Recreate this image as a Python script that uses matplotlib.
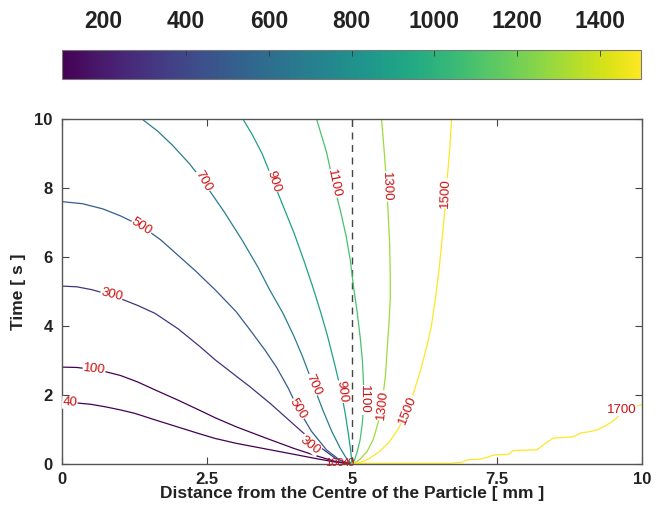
import numpy as np
import matplotlib
matplotlib.use('Agg')
import matplotlib.pyplot as plt
from matplotlib import cm, colors

plt.rcParams['font.family'] = ['Liberation Sans', 'DejaVu Sans']

# temperature levels and the isotherms (x in mm, t in s)
levels = [40, 100, 300, 500, 700, 900, 1100, 1300, 1500, 1700]

x40 = [0, 0.25, 0.5, 0.74, 1.0, 1.25, 1.6, 2.0, 2.38, 2.64, 3.0, 3.5, 4.0, 4.4, 4.7, 5.0]
t40 = [1.78, 1.77, 1.73, 1.66, 1.57, 1.47, 1.28, 1.07, 0.87, 0.74, 0.6, 0.44, 0.28, 0.15, 0.06, 0.0]

x100 = [0, 0.25, 0.5, 0.74, 1.0, 1.3, 1.6, 2.0, 2.38, 2.64, 3.0, 3.5, 4.0, 4.4, 4.7, 5.0]
t100 = [2.81, 2.8, 2.75, 2.68, 2.57, 2.38, 2.15, 1.85, 1.55, 1.34, 1.08, 0.76, 0.45, 0.23, 0.08, 0.0]

x300 = [0, 0.25, 0.5, 0.74, 1.0, 1.3, 1.6, 2.0, 2.38, 2.64, 3.0, 3.24, 3.6, 4.1, 4.4, 4.7, 4.9, 5.0]
t300 = [5.16, 5.14, 5.06, 4.95, 4.8, 4.6, 4.37, 3.92, 3.4, 3.02, 2.55, 2.24, 1.74, 0.99, 0.55, 0.18, 0.04, 0.0]

x500 = [0, 0.35, 0.7, 1.0, 1.37, 1.7, 2.0, 2.3, 2.64, 3.0, 3.24, 3.5, 3.7, 3.9, 4.07, 4.3, 4.56, 4.8, 5.0]
t500 = [7.61, 7.55, 7.4, 7.2, 6.9, 6.5, 6.05, 5.6, 5.05, 4.42, 3.89, 3.3, 2.8, 2.2, 1.6, 0.95, 0.41, 0.1, 0.0]

x700 = [1.38, 1.65, 1.9, 2.2, 2.43, 2.8, 3.12, 3.38, 3.58, 3.81, 4.0, 4.15, 4.33, 4.5, 4.65, 4.8, 4.92, 5.0]
t700 = [10, 9.65, 9.25, 8.7, 8.2, 7.3, 6.45, 5.7, 5.05, 4.37, 3.7, 3.1, 2.3, 1.55, 0.95, 0.45, 0.12, 0.0]

x900 = [3.12, 3.28, 3.45, 3.64, 3.82, 4.0, 4.17, 4.33, 4.46, 4.58, 4.7, 4.8, 4.88, 4.94, 4.98, 5.0]
t900 = [10, 9.55, 9.0, 8.2, 7.45, 6.7, 5.9, 5.1, 4.4, 3.7, 2.9, 2.2, 1.5, 0.85, 0.35, 0.0]

x1100 = [4.39, 4.47, 4.56, 4.68, 4.8, 4.9, 4.97, 5.03, 5.09, 5.14, 5.18, 5.2, 5.2, 5.18, 5.14, 5.09, 5.04, 5.0]
t1100 = [10, 9.55, 9.05, 8.14, 7.35, 6.6, 5.92, 5.1, 4.4, 3.7, 3.0, 2.3, 1.7, 1.2, 0.7, 0.35, 0.1, 0.0]

x1300 = [5.51, 5.55, 5.59, 5.62, 5.65, 5.66, 5.66, 5.64, 5.61, 5.58, 5.53, 5.46, 5.37, 5.26, 5.14, 5.05, 5.0]
t1300 = [10, 9.2, 8.3, 7.4, 6.4, 5.5, 4.8, 4.1, 3.4, 2.6, 1.9, 1.25, 0.72, 0.36, 0.14, 0.03, 0.0]

x1500 = [6.72, 6.69, 6.65, 6.61, 6.56, 6.5, 6.44, 6.37, 6.29, 6.18, 6.06, 5.94, 5.8, 5.65, 5.48, 5.3, 5.15, 5.0]
t1500 = [10, 9.2, 8.4, 7.5, 6.6, 5.6, 4.8, 4.0, 3.4, 2.7, 2.05, 1.5, 1.02, 0.65, 0.37, 0.16, 0.05, 0.0]

x1700 = [5.0, 6.7, 6.9, 7.0, 7.21, 7.35, 7.44, 7.7, 7.78, 8.19, 8.3, 8.47, 8.82,
         8.95, 9.11, 9.25, 9.4, 9.55, 9.63, 9.8, 10.0]
t1700 = [0.02, 0.02, 0.05, 0.12, 0.14, 0.2, 0.26, 0.28, 0.39, 0.41, 0.55, 0.75, 0.79,
         0.9, 0.94, 1.0, 1.13, 1.3, 1.47, 1.62, 1.72]

lines_x = [x40, x100, x300, x500, x700, x900, x1100, x1300, x1500, x1700]
lines_t = [t40, t100, t300, t500, t700, t900, t1100, t1300, t1500, t1700]

cbar_ticks = [200, 400, 600, 800, 1000, 1200, 1400]
xticks = [0, 2.5, 5, 7.5, 10]
yticks = [0, 2, 4, 6, 8, 10]

# inline labels: (text, x, t, angle, knock out line)
clabels = [
    ('40', 0.13, 1.78, -3, True),
    ('100', 0.55, 2.76, -6, True),
    ('300', 0.85, 4.9, -14, True),
    ('500', 1.37, 6.88, -33, True),
    ('700', 2.43, 8.2, -60, True),
    ('900', 3.64, 8.2, -72, True),
    ('1100', 4.68, 8.14, -78, True),
    ('1300', 5.6, 8.05, -88, True),
    ('1500', 6.62, 7.85, 88, True),
    ('700', 4.33, 2.3, -66, True),
    ('500', 4.07, 1.6, -58, True),
    ('300', 4.28, 0.55, -38, True),
    ('900', 4.82, 2.1, -82, True),
    ('1100', 5.2, 1.86, -90, True),
    ('1300', 5.52, 1.7, 84, True),
    ('1500', 5.97, 1.57, 68, True),
    ('1700', 9.66, 1.58, 0, True),
]
# the two labels squeezed into the corner at x = 5, t = 0
corner_labels = [('100', 4.7, 0.02), ('40', 4.95, 0.02)]

fig = plt.figure(figsize=(6.64, 5.11), dpi=100)
ax = fig.add_axes([0.0938, 0.092, 0.8726, 0.6746])
cax = fig.add_axes([0.0934, 0.8454, 0.872, 0.0568])

cmap = plt.get_cmap('viridis')
norm = colors.Normalize(vmin=100, vmax=1500)

for lev, xs, ts in zip(levels, lines_x, lines_t):
    ax.plot(xs, ts, color=cmap(norm(lev)), lw=0.9, zorder=2)

ax.axvline(5, color='#444444', ls=(0, (5, 4)), lw=1.0, zorder=1)

for txt, x, t, ang, knock in clabels:
    ax.text(x, t, txt, color='#cc1010', fontsize=9.5, rotation=ang,
            rotation_mode='anchor', ha='center', va='center', zorder=3,
            bbox=dict(fc='white', ec='none', pad=0.3))
for txt, x, t in corner_labels:
    ax.text(x, t, txt, color='#cc1010', fontsize=8, ha='center', va='center', zorder=3)

ax.set_xlim(0, 10)
ax.set_ylim(0, 10)
ax.set_xticks(xticks)
ax.set_xticklabels(['0', '2.5', '5', '7.5', '10'])
ax.set_yticks(yticks)
ax.tick_params(direction='in', length=5, width=0.8, color='#444444',
               top=True, right=True, labelsize=12, labelcolor='#222222')
ax.tick_params(axis='x', pad=6)
ax.tick_params(axis='y', pad=7)
for lab in ax.get_xticklabels() + ax.get_yticklabels():
    lab.set_fontweight('bold')
for s in ax.spines.values():
    s.set_color('#555555')
    s.set_linewidth(1.0)
ax.set_xlabel('Distance from the Centre of the Particle [ mm ]', fontsize=12.5,
              fontweight='bold', color='#222222', labelpad=-1)
ax.set_ylabel('Time [ s ]', fontsize=12.5, fontweight='bold', color='#222222', labelpad=6)

sm = cm.ScalarMappable(norm=norm, cmap=cmap)
cb = fig.colorbar(sm, cax=cax, orientation='horizontal', ticks=cbar_ticks)
cax.xaxis.set_ticks_position('top')
cax.tick_params(direction='in', length=4, width=0.6, color='#333333',
                labelsize=16.5, labelcolor='#222222', pad=12)
for lab in cax.get_xticklabels():
    lab.set_fontweight('bold')
cb.outline.set_edgecolor('#777777')
cb.outline.set_linewidth(0.8)

fig.savefig('out.png', dpi=100, facecolor='white')
